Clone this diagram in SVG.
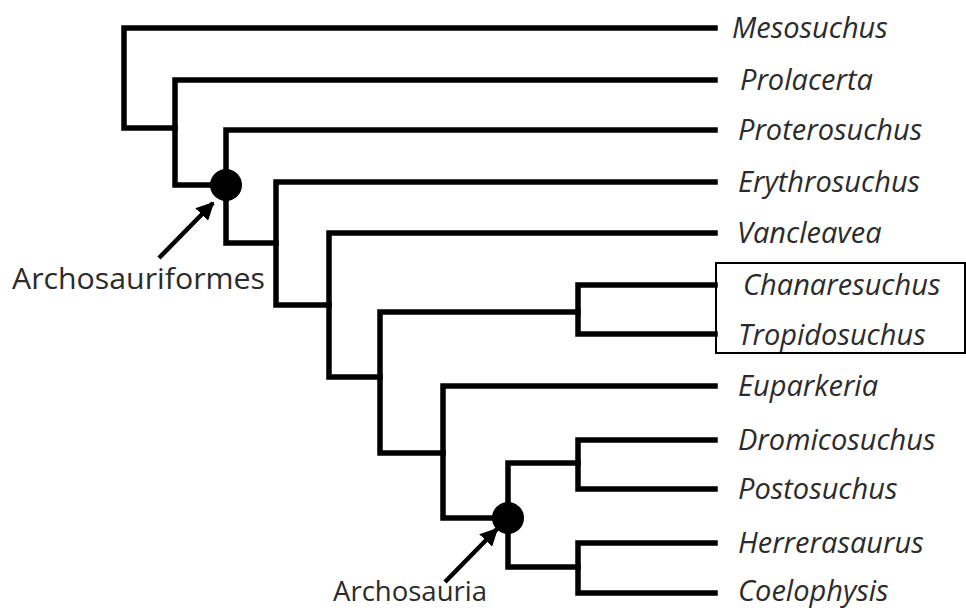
<svg xmlns="http://www.w3.org/2000/svg" width="966" height="610" viewBox="0 0 966 610">
<defs>
<style>
.br{fill:none;stroke:#000;stroke-width:5.5;stroke-linecap:square;stroke-linejoin:miter}
.leaf{font-family:"Open Sans","Liberation Sans",Arial,sans-serif;font-style:italic;font-size:29px;fill:#2b2b2b}
.ann{font-family:"Open Sans","Liberation Sans",Arial,sans-serif;font-size:30px;fill:#2b2b2b}
.arr{stroke:#000;stroke-width:4.5;fill:none}
</style>
<marker id="ah" viewBox="0 0 10 10" refX="9" refY="5" markerWidth="4" markerHeight="4" markerUnits="strokeWidth" orient="auto">
<path d="M0,0 L10,5 L0,10 z" fill="#000"/>
</marker>
</defs>
<rect width="966" height="610" fill="#fff"/>
<g id="connectors">
<path class="br" d="M715,28 H124 V128 H175"/>
<path class="br" d="M715,80 H175 V185 H226"/>
<path class="br" d="M715,130 H226 V243 H276"/>
<path class="br" d="M715,182 H276 V305 H329"/>
<path class="br" d="M715,233 H329 V377 H380"/>
<path class="br" d="M578,312 H380 V453 H443"/>
<path class="br" d="M715,285 H578 V334 H715"/>
<path class="br" d="M715,386 H443 V518 H508"/>
<path class="br" d="M578,463 H508 V567 H578"/>
<path class="br" d="M715,440 H578 V489 H715"/>
<path class="br" d="M715,543 H578 V593 H715"/>
<line class="arr" x1="159" y1="258" x2="213" y2="203" marker-end="url(#ah)"/>
<line class="arr" x1="445" y1="582" x2="497" y2="529" marker-end="url(#ah)"/>
</g>
<g id="node-archosauriformes">
<circle cx="226" cy="185" r="16" fill="#000"/>
<text class="ann" x="12" y="289" textLength="253" lengthAdjust="spacingAndGlyphs">Archosauriformes</text>
</g>
<g id="node-archosauria">
<circle cx="508" cy="518" r="16" fill="#000"/>
<text class="ann" x="333" y="601" style="font-size:28px" textLength="154" lengthAdjust="spacingAndGlyphs">Archosauria</text>
</g>
<g id="box-chanaresuchus-tropidosuchus">
<rect x="716" y="263" width="249" height="90" fill="none" stroke="#000" stroke-width="2"/>
</g>
<g id="leaf-mesosuchus"><text class="leaf" x="732" y="38">Mesosuchus</text></g>
<g id="leaf-prolacerta"><text class="leaf" x="740" y="90">Prolacerta</text></g>
<g id="leaf-proterosuchus"><text class="leaf" x="738" y="140">Proterosuchus</text></g>
<g id="leaf-erythrosuchus"><text class="leaf" x="738" y="192">Erythrosuchus</text></g>
<g id="leaf-vancleavea"><text class="leaf" x="737" y="243">Vancleavea</text></g>
<g id="leaf-chanaresuchus"><text class="leaf" x="743" y="295">Chanaresuchus</text></g>
<g id="leaf-tropidosuchus"><text class="leaf" x="738" y="345">Tropidosuchus</text></g>
<g id="leaf-euparkeria"><text class="leaf" x="738" y="396">Euparkeria</text></g>
<g id="leaf-dromicosuchus"><text class="leaf" x="738" y="450">Dromicosuchus</text></g>
<g id="leaf-postosuchus"><text class="leaf" x="738" y="499">Postosuchus</text></g>
<g id="leaf-herrerasaurus"><text class="leaf" x="738" y="553">Herrerasaurus</text></g>
<g id="leaf-coelophysis"><text class="leaf" x="738" y="601">Coelophysis</text></g>
</svg>
